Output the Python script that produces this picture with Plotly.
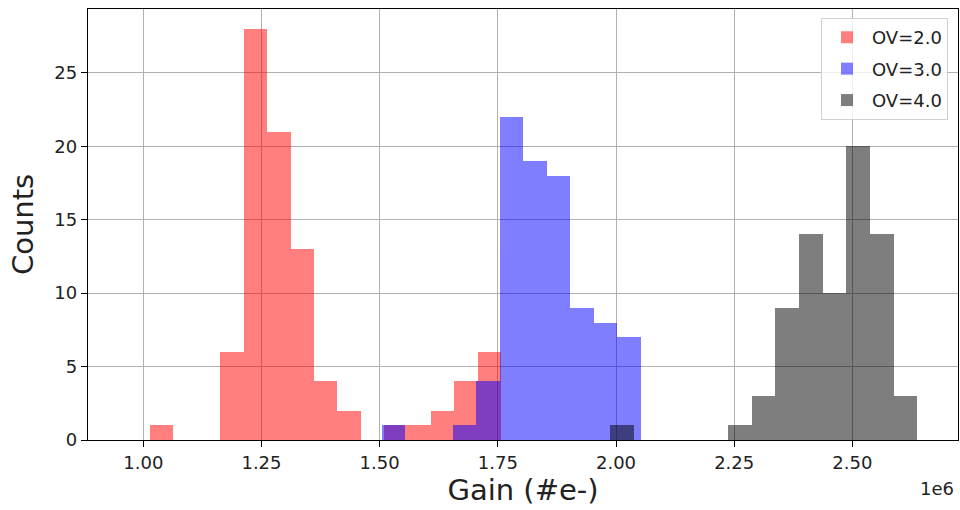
import numpy as np
import plotly.graph_objects as go

# ---- data (Gain in units of 1e6 electrons) ----
series_labels = ["OV=2.0", "OV=3.0", "OV=4.0"]

red_edges_range = (1.0142, 1.7573)
red_counts = [1, 0, 0, 6, 28, 21, 13, 4, 2, 0, 1, 1, 2, 4, 6]

blue_edges_range = (1.5048, 2.0527)
blue_counts = [1, 0, 0, 1, 4, 22, 19, 18, 9, 8, 7]

gray_edges_range = (1.9875, 2.6371)
gray_counts = [1, 0, 0, 0, 0, 1, 3, 9, 14, 10, 20, 14, 3]

x_tick_vals = [1.00, 1.25, 1.50, 1.75, 2.00, 2.25, 2.50]
x_tick_text = ["1.00", "1.25", "1.50", "1.75", "2.00", "2.25", "2.50"]
y_tick_vals = [0, 5, 10, 15, 20, 25]

colors = ["rgb(255,0,0)", "rgb(0,0,255)", "rgb(0,0,0)"]

FONT = "DejaVu Sans"
TICK_SIZE = 18
TITLE_SIZE = 29

fig = go.Figure()
for label, rng, counts, col in zip(
    series_labels,
    [red_edges_range, blue_edges_range, gray_edges_range],
    [red_counts, blue_counts, gray_counts],
    colors,
):
    n = len(counts)
    edges = np.linspace(rng[0], rng[1], n + 1) * 1e6
    lefts = edges[:-1]
    widths = np.diff(edges)
    fig.add_trace(go.Bar(
        x=lefts, y=counts, width=widths, offset=0,
        name=label, legendgroup=label,
        marker=dict(color=col, line=dict(width=0)),
        opacity=0.5,
    ))

fig.update_layout(
    width=960, height=510,
    barmode="overlay",
    bargap=0,
    paper_bgcolor="white", plot_bgcolor="white",
    margin=dict(l=88, r=2, t=9, b=70),
    font=dict(family=FONT, size=TICK_SIZE, color="#222222"),
    showlegend=True,
    legend=dict(
        x=0.9885, y=0.979, xanchor="right", yanchor="top",
        bgcolor="rgba(255,255,255,0.8)", bordercolor="#d0d0d0", borderwidth=1,
        font=dict(family=FONT, size=TICK_SIZE, color="#222222"),
        itemwidth=40, tracegroupgap=5,
    ),
    annotations=[dict(
        text="1e6", x=1.0, xref="paper", y=-0.1114, yref="paper",
        xanchor="right", yanchor="middle", xshift=-2, showarrow=False,
        font=dict(family=FONT, size=TICK_SIZE, color="#222222"),
    )],
)

fig.update_xaxes(
    range=[0.883e6, 2.7235e6],
    tickvals=[v * 1e6 for v in x_tick_vals], ticktext=x_tick_text,
    showgrid=True, gridcolor="#b0b0b0", gridwidth=1.4,
    showline=True, linecolor="black", linewidth=1.4, mirror=True,
    ticks="outside", ticklen=6, tickcolor="black", tickwidth=1.4,
    zeroline=False,
    title=dict(text="Gain (#e-)", font=dict(family=FONT, size=TITLE_SIZE, color="#222222"), standoff=2),
)
fig.update_yaxes(
    range=[0, 29.35],
    tickvals=y_tick_vals,
    showgrid=True, gridcolor="#b0b0b0", gridwidth=1.4,
    showline=True, linecolor="black", linewidth=1.4, mirror=True,
    ticks="outside", ticklen=6, tickcolor="black", tickwidth=1.4,
    zeroline=False,
    title=dict(text="Counts", font=dict(family=FONT, size=TITLE_SIZE, color="#222222"), standoff=12),
)

fig.write_html("out.html")
